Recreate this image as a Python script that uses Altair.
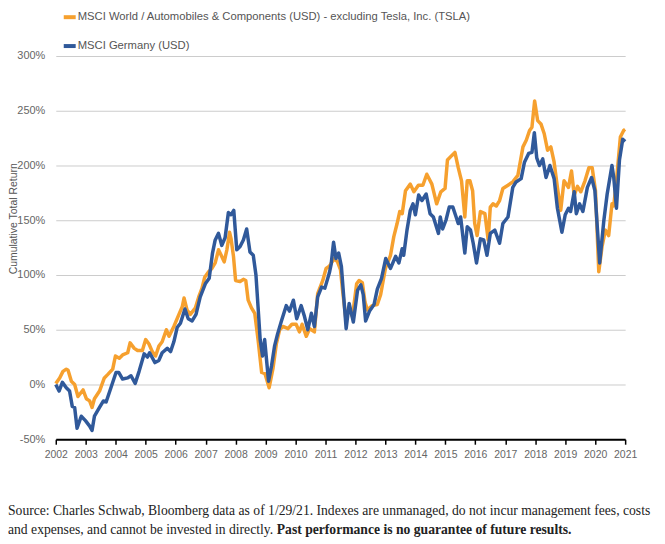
import altair as alt
import pandas as pd

ORANGE_NAME = "MSCI World / Automobiles & Components (USD) - excluding Tesla, Inc. (TSLA)"
BLUE_NAME = "MSCI Germany (USD)"
ORANGE = "#F6A02E"
BLUE = "#30599A"

orange_year = [2002.0, 2002.13, 2002.24, 2002.35, 2002.41, 2002.52, 2002.63, 2002.74, 2002.91, 2003.02,
               2003.13, 2003.21, 2003.29, 2003.46, 2003.62, 2003.73, 2003.9, 2003.99, 2004.12, 2004.23,
               2004.4, 2004.48, 2004.62, 2004.73, 2004.89, 2005.0, 2005.11, 2005.22, 2005.33, 2005.44,
               2005.55, 2005.69, 2005.78, 2005.94, 2006.11, 2006.22, 2006.28, 2006.38, 2006.49, 2006.66,
               2006.77, 2006.88, 2006.97, 2007.1, 2007.21, 2007.32, 2007.43, 2007.52, 2007.62, 2007.71,
               2007.8, 2007.85, 2007.93, 2008.0, 2008.15, 2008.26, 2008.34, 2008.42, 2008.53, 2008.64,
               2008.75, 2008.87, 2008.98, 2009.12, 2009.25, 2009.36, 2009.47, 2009.58, 2009.75, 2009.88,
               2010.02, 2010.13, 2010.22, 2010.36, 2010.47, 2010.63, 2010.74, 2010.91, 2011.02, 2011.13,
               2011.29, 2011.4, 2011.5, 2011.57, 2011.68, 2011.79, 2011.9, 2012.04, 2012.12, 2012.23,
               2012.32, 2012.4, 2012.56, 2012.73, 2012.84, 2013.0, 2013.17, 2013.28, 2013.39, 2013.48,
               2013.56, 2013.67, 2013.83, 2013.95, 2014.1, 2014.25, 2014.38, 2014.55, 2014.71, 2014.85,
               2014.99, 2015.07, 2015.21, 2015.32, 2015.43, 2015.54, 2015.65, 2015.73, 2015.82, 2015.91,
               2015.98, 2016.06, 2016.17, 2016.32, 2016.43, 2016.5, 2016.59, 2016.7, 2016.81, 2016.92,
               2017.09, 2017.25, 2017.42, 2017.59, 2017.7, 2017.81, 2017.89, 2017.98, 2018.08, 2018.19,
               2018.3, 2018.41, 2018.52, 2018.63, 2018.74, 2018.85, 2018.96, 2019.11, 2019.21, 2019.3,
               2019.41, 2019.52, 2019.66, 2019.79, 2019.9, 2020.01, 2020.12, 2020.23, 2020.34, 2020.45,
               2020.56, 2020.62, 2020.73, 2020.84, 2020.95, 2021.0]
orange_value = [1, 6, 12, 14, 13, 3, 0, -11, -5, -13,
                -15, -21, -13, -6, 6, 9, 14, 26, 24, 27,
                29, 38, 33, 31, 31, 41, 37, 30, 26, 35,
                39, 50, 44, 53, 64, 71, 79, 68, 64, 70,
                80, 88, 98, 103, 106, 111, 123, 118, 112, 123,
                139, 133, 117, 95, 94, 96, 95, 77, 70, 65,
                41, 11, 10, -3, 15, 37, 50, 53, 51, 55,
                55, 48, 55, 44, 51, 48, 83, 95, 106, 108,
                115, 112, 105, 86, 60, 70, 62, 92, 95, 93,
                75, 68, 72, 73, 82, 106, 118, 135, 147, 158,
                156, 177, 183, 176, 182, 182, 192, 183, 165, 176,
                179, 205, 209, 212, 198, 186, 153, 186, 186, 177,
                147, 136, 158, 156, 132, 162, 165, 163, 168, 179,
                182, 185, 191, 217, 223, 232, 235, 259, 241, 238,
                229, 214, 217, 203, 180, 159, 186, 180, 195, 173,
                181, 176, 186, 198, 198, 177, 103, 126, 141, 136,
                165, 163, 192, 226, 232, 233]

blue_year = [2002.0, 2002.11, 2002.22, 2002.35, 2002.46, 2002.55, 2002.63, 2002.71, 2002.85, 2002.99,
             2003.13, 2003.21, 2003.29, 2003.46, 2003.59, 2003.68, 2003.84, 2004.01, 2004.1, 2004.23,
             2004.4, 2004.51, 2004.65, 2004.78, 2004.95, 2005.06, 2005.13, 2005.31, 2005.44, 2005.55,
             2005.72, 2005.83, 2005.94, 2006.05, 2006.16, 2006.31, 2006.42, 2006.55, 2006.68, 2006.82,
             2006.99, 2007.12, 2007.23, 2007.32, 2007.43, 2007.54, 2007.65, 2007.76, 2007.85, 2007.94,
             2008.04, 2008.15, 2008.26, 2008.37, 2008.48, 2008.59, 2008.68, 2008.75, 2008.82, 2008.9,
             2008.97, 2009.1, 2009.2, 2009.3, 2009.4, 2009.53, 2009.69, 2009.8, 2009.93, 2010.04,
             2010.19, 2010.3, 2010.41, 2010.53, 2010.63, 2010.74, 2010.87, 2010.98, 2011.13, 2011.19,
             2011.27, 2011.35, 2011.44, 2011.53, 2011.6, 2011.69, 2011.79, 2011.93, 2012.07, 2012.18,
             2012.26, 2012.34, 2012.47, 2012.62, 2012.73, 2012.87, 2013.01, 2013.17, 2013.34, 2013.45,
             2013.56, 2013.61, 2013.72, 2013.83, 2013.92, 2014.0, 2014.11, 2014.22, 2014.36, 2014.49,
             2014.6, 2014.77, 2014.83, 2014.91, 2015.02, 2015.13, 2015.25, 2015.36, 2015.43, 2015.51,
             2015.65, 2015.73, 2015.84, 2015.93, 2016.04, 2016.17, 2016.28, 2016.39, 2016.5, 2016.65,
             2016.81, 2016.92, 2017.09, 2017.25, 2017.36, 2017.53, 2017.64, 2017.78, 2017.89, 2017.97,
             2018.05, 2018.14, 2018.25, 2018.36, 2018.49, 2018.63, 2018.74, 2018.89, 2019.0, 2019.11,
             2019.18, 2019.3, 2019.37, 2019.48, 2019.59, 2019.74, 2019.88, 2019.99, 2020.15, 2020.29,
             2020.4, 2020.56, 2020.62, 2020.71, 2020.81, 2020.92, 2021.0]
blue_value = [0, -6, 2, -3, -6, -20, -21, -40, -29, -33,
              -38, -42, -29, -21, -15, -16, -3, 11, 11, 5,
              6, 8, 1, 12, 28, 25, 29, 20, 22, 29,
              33, 30, 39, 52, 56, 69, 60, 58, 64, 80,
              92, 97, 120, 132, 138, 127, 134, 157, 155, 159,
              123, 126, 132, 142, 121, 118, 100, 71, 41, 26,
              41, 3, 17, 35, 46, 58, 72, 67, 77, 60,
              72, 62, 50, 65, 53, 80, 89, 88, 102, 110,
              130, 115, 120, 108, 83, 51, 74, 57, 86, 91,
              82, 58, 67, 73, 87, 97, 115, 106, 117, 111,
              124, 118, 141, 159, 165, 155, 173, 168, 174, 156,
              153, 138, 153, 142, 150, 162, 162, 153, 147, 153,
              120, 144, 141, 129, 111, 133, 132, 118, 138, 141,
              129, 147, 153, 180, 185, 188, 203, 211, 212, 230,
              207, 200, 206, 189, 200, 188, 161, 139, 155, 161,
              158, 176, 156, 165, 158, 180, 189, 177, 111, 150,
              174, 200, 189, 161, 205, 224, 222]

x_ticks = list(range(2002, 2022))
y_ticks = [-50, 0, 50, 100, 150, 200, 250, 300]

footnote_1 = "Source: Charles Schwab, Bloomberg data as of 1/29/21. Indexes are unmanaged, do not incur management fees, costs"
footnote_2 = "and expenses, and cannot be invested in directly."
footnote_bold = "Past performance is no guarantee of future results."

SANS = "Liberation Sans, Arial, sans-serif"
SERIF = "Liberation Serif, Georgia, serif"

orange_df = pd.DataFrame({"t": orange_year, "v": orange_value, "series": ORANGE_NAME})
blue_df = pd.DataFrame({"t": blue_year, "v": blue_value, "series": BLUE_NAME})

x_enc = alt.X(
    "t:Q",
    scale=alt.Scale(domain=[2002, 2021], nice=False, zero=False),
    axis=alt.Axis(values=x_ticks, format="d", title=None, grid=False, labelOverlap=False,
                  labelFlush=False, labelBound=False,
                  domainColor="#000000", domainWidth=2, tickColor="#000000",
                  tickSize=5, tickWidth=1.5, labelColor="#666666", labelFontSize=10.5,
                  labelFont=SANS, labelPadding=5),
)
y_enc = alt.Y(
    "v:Q",
    scale=alt.Scale(domain=[-50, 300], nice=False, zero=False),
    axis=alt.Axis(values=y_ticks, labelExpr="datum.value + '%'", domain=False, ticks=False,
                  grid=True, gridColor="#cccccc", gridWidth=1, labelPadding=11,
                  labelColor="#666666", labelFontSize=11, labelFont=SANS,
                  title="Cumulative Total Return", titleFont=SANS, titleFontSize=10.5,
                  titleFontWeight="normal", titleColor="#555555", titleAngle=270,
                  titleX=-37, titleY=163, titleAlign="center", titleBaseline="bottom"),
)
color_enc = alt.Color(
    "series:N",
    scale=alt.Scale(domain=[ORANGE_NAME, BLUE_NAME], range=[ORANGE, BLUE]),
    legend=alt.Legend(title=None, orient="none", legendX=6, legendY=-47,
                      direction="vertical", symbolType="stroke", symbolStrokeWidth=4,
                      symbolSize=144, labelFont=SANS, labelFontSize=11.3, labelLimit=0,
                      labelColor="#555555", rowPadding=13, labelOffset=0),
)

orange_line = alt.Chart(orange_df).mark_line(strokeWidth=3.5, strokeJoin="round").encode(
    x=x_enc, y=y_enc, color=color_enc)
blue_line = alt.Chart(blue_df).mark_line(strokeWidth=3.5, strokeJoin="round").encode(
    x=x_enc, y=y_enc, color=color_enc)

note_df = pd.DataFrame({"a": [footnote_1], "b": [footnote_2], "c": [footnote_bold]})
note1 = alt.Chart(note_df).mark_text(align="left", baseline="alphabetic", font=SERIF,
                                     fontSize=13.7, color="#222222").encode(
    x=alt.value(-48), y=alt.value(461), text="a:N")
note2 = alt.Chart(note_df).mark_text(align="left", baseline="alphabetic", font=SERIF,
                                     fontSize=13.7, color="#222222").encode(
    x=alt.value(-48), y=alt.value(480), text="b:N")
note3 = alt.Chart(note_df).mark_text(align="left", baseline="alphabetic", font=SERIF,
                                     fontSize=13.7, fontWeight="bold", color="#222222").encode(
    x=alt.value(222), y=alt.value(480), text="c:N")

chart = alt.layer(orange_line, blue_line, note1, note2, note3).properties(
    width=572, height=385,
    autosize=alt.AutoSizeParams(type="none"),
    padding={"left": 48, "top": 47, "right": 32, "bottom": 100},
).configure_view(stroke=None)

chart.save("out.html", embed_options={"renderer": "svg", "actions": False})
